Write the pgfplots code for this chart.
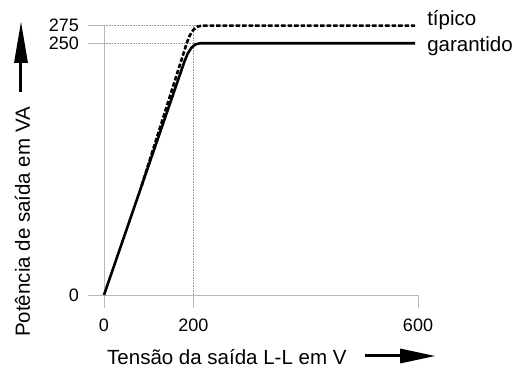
\documentclass[border=0pt]{standalone}
\usepackage{pgfplots}
\pgfplotsset{compat=1.18}
\usepackage{fontspec}
\setmainfont{Liberation Sans}
\newcommand{\fs}{\fontsize{20.5}{24}\selectfont}
\newcommand{\ft}{\fontsize{18}{21}\selectfont}
\definecolor{axisgray}{RGB}{185,185,185}
\definecolor{gridgray}{RGB}{150,150,150}

\begin{document}
\begin{tikzpicture}
\useasboundingbox (-104pt,-76pt) rectangle (416pt,295pt);
\begin{axis}[
  x=0.4475pt, y=1.0068pt,
  xmin=0, xmax=701.7, ymin=0, ymax=267.5,
  separate axis lines,
  axis x line*=bottom, axis y line*=left,
  axis line style={axisgray, line width=0.9pt},
  tick align=outside,
  major tick length=16pt,
  tick style={axisgray, line width=0.9pt},
  xtick style={draw=none},
  xtick={0,200,701.7}, xticklabels={0,200,600},
  ytick={0,250,267.5}, yticklabels={0,250,275},
  xticklabel style={font=\ft, anchor=base, yshift=-21pt},
  yticklabel style={font=\ft, anchor=east, inner sep=0pt, xshift=-9pt},
  clip=false,
]
% reference lines at the knee
\draw[gridgray, densely dotted, line width=0.6pt] (axis cs:0,250) -- (axis cs:695,250);
\draw[gridgray, densely dotted, line width=0.6pt] (axis cs:0,267.5) -- (axis cs:695,267.5);
\draw[gridgray, densely dotted, line width=0.6pt] (axis cs:200,0) -- (axis cs:200,267.5);
% short x ticks below the axis
\draw[axisgray, line width=0.9pt] (axis cs:0,0) -- ++(0,-13pt);
\draw[axisgray, line width=0.9pt] (axis cs:200,0) -- ++(0,-13pt);
\draw[axisgray, line width=0.9pt] (axis cs:701.7,0) -- ++(0,-13pt);

% guaranteed output
\addplot[black, line width=2.6pt, line join=round] coordinates {
  (0,0) (180,232.2) (187.3,240.0) (195.4,245.55) (204.3,248.9) (214,250) (695,250)
};
% typical output
\addplot[black, line width=2.6pt, dash pattern=on 4.5pt off 2pt] coordinates {
  (84,108.5) (185,250.3) (191.7,257.8) (199.4,263.2) (208.2,266.4) (218,267.5) (695,267.5)
};

\node[anchor=base west, font=\fs, inner sep=0pt] at (axis cs:722,267.5) {típico};
\node[anchor=base west, font=\fs, inner sep=0pt] at (axis cs:722,242) {garantido};
\end{axis}

% axis titles with direction arrows
\node[rotate=90, anchor=base west, font=\fs, inner sep=0pt] at (-74pt,-42pt) {Potência de saída em VA};
\draw[line width=3pt] (-83pt,203pt) -- (-83pt,236pt);
\fill (-90pt,232pt) -- (-76pt,232pt) -- (-83pt,273pt) -- cycle;

\node[anchor=base west, font=\fs, inner sep=0pt] at (3pt,-70pt) {Tensão da saída L-L em V};
\draw[line width=3pt] (261pt,-61pt) -- (300pt,-61pt);
\fill (296pt,-68.5pt) -- (296pt,-53.5pt) -- (331pt,-61pt) -- cycle;
\end{tikzpicture}
\end{document}
